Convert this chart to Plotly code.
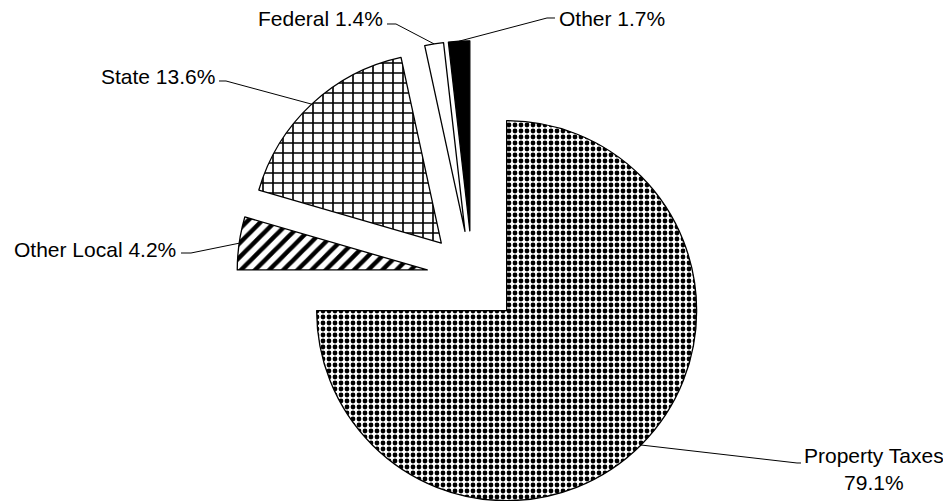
import math
import plotly.graph_objects as go

# ---- data ----
categories = ["Property Taxes", "Other Local", "State", "Federal", "Other"]
pct_labels = ["79.1%", "4.2%", "13.6%", "1.4%", "1.7%"]
# slice sizes as actually drawn in the reference (share of the full circle)
drawn_share = [75.0, 4.5, 17.1, 1.6, 1.8]
explode = [0.255, 0.24, 0.24, 0.24, 0.24]

# ---- styling ----
PAGE = 8                       # browser body margin
W, H = 951 - PAGE, 501 - PAGE  # figure size
CX, CY, R = 472.4 - PAGE, 276.4 - PAGE, 190.0   # pie centre / radius (figure px)
FONT = "Liberation Sans, Arial, sans-serif"
pattern_shape = [".", "/", "+", "", ""]
pattern_size = [6, 10, 10, 8, 8]
pattern_solid = [0.5, 0.45, 0.3, 0.3, 0.3]
fill_color = ["white", "white", "white", "white", "black"]
CLEAR = "rgba(0,0,0,0)"

total = sum(drawn_share)
mids = []
acc = 0.0
for v in drawn_share:
    a0 = acc / total * 360.0
    acc += v
    a1 = acc / total * 360.0
    mids.append(math.radians((a0 + a1) / 2))

def px_to_paper(x, y):
    return x / W, 1 - y / H

fig = go.Figure()
anchors = []
n = len(categories)
for i, name in enumerate(categories):
    dx, dy = math.sin(mids[i]), -math.cos(mids[i])
    cx = CX + explode[i] * R * dx
    cy = CY + explode[i] * R * dy
    anchors.append((cx + R * dx, cy + R * dy))
    x0, x1 = (cx - R) / W, (cx + R) / W
    y0, y1 = 1 - (cy + R) / H, 1 - (cy - R) / H
    y0 = max(0.0, y0)
    y1 = min(1.0, y1)
    fig.add_trace(go.Pie(
        labels=categories,
        values=drawn_share,
        sort=False,
        direction="clockwise",
        rotation=0,
        textinfo="none",
        hoverinfo="skip",
        showlegend=False,
        domain=dict(x=[x0, x1], y=[y0, y1]),
        marker=dict(
            colors=[fill_color[j] if j == i else CLEAR for j in range(n)],
            line=dict(color="black", width=[1.3 if j == i else 0 for j in range(n)]),
            pattern=dict(
                shape=[pattern_shape[j] if j == i else "" for j in range(n)],
                fgcolor=["black"] * n,
                bgcolor=["white" if j == i else CLEAR for j in range(n)],
                size=pattern_size,
                solidity=pattern_solid,
                fillmode="replace",
            ),
        ),
    ))

# label placement (window px): text position, anchor side, leader-line bend and end
label_layout = [
    dict(x=874, y=469, xanchor="center", bend=(797, 463), end=(801, 463)),
    dict(x=178, y=249, xanchor="right", bend=(191, 253), end=(181, 253)),
    dict(x=217, y=76, xanchor="right", bend=(226, 81), end=(219, 81)),
    dict(x=385, y=19, xanchor="right", bend=(396, 24), end=(387, 24)),
    dict(x=557, y=19, xanchor="left", bend=(547, 18), end=(555, 18)),
]

shapes = []
annotations = []
for i, name in enumerate(categories):
    L = label_layout[i]
    if i == 0:
        text = f"{name}<br>{pct_labels[i]}"
    else:
        text = f"{name} {pct_labels[i]}"
    ax, ay = anchors[i]
    pts = [(ax, ay),
           (L["bend"][0] - PAGE, L["bend"][1] - PAGE),
           (L["end"][0] - PAGE, L["end"][1] - PAGE)]
    path = "M " + " L ".join(
        f"{px_to_paper(x, y)[0]:.5f},{px_to_paper(x, y)[1]:.5f}" for x, y in pts)
    shapes.append(dict(type="path", xref="paper", yref="paper", path=path,
                       line=dict(color="black", width=1)))
    tx, ty = px_to_paper(L["x"] - PAGE, L["y"] - PAGE)
    annotations.append(dict(x=tx, y=ty, xref="paper", yref="paper", text=text,
                            showarrow=False, xanchor=L["xanchor"], yanchor="middle",
                            align="center",
                            font=dict(family=FONT, size=21, color="black")))

fig.update_layout(
    width=W, height=H,
    margin=dict(l=0, r=0, t=0, b=0),
    paper_bgcolor="white",
    plot_bgcolor="white",
    shapes=shapes,
    annotations=annotations,
    font=dict(family=FONT),
)

fig.write_html("out.html")
